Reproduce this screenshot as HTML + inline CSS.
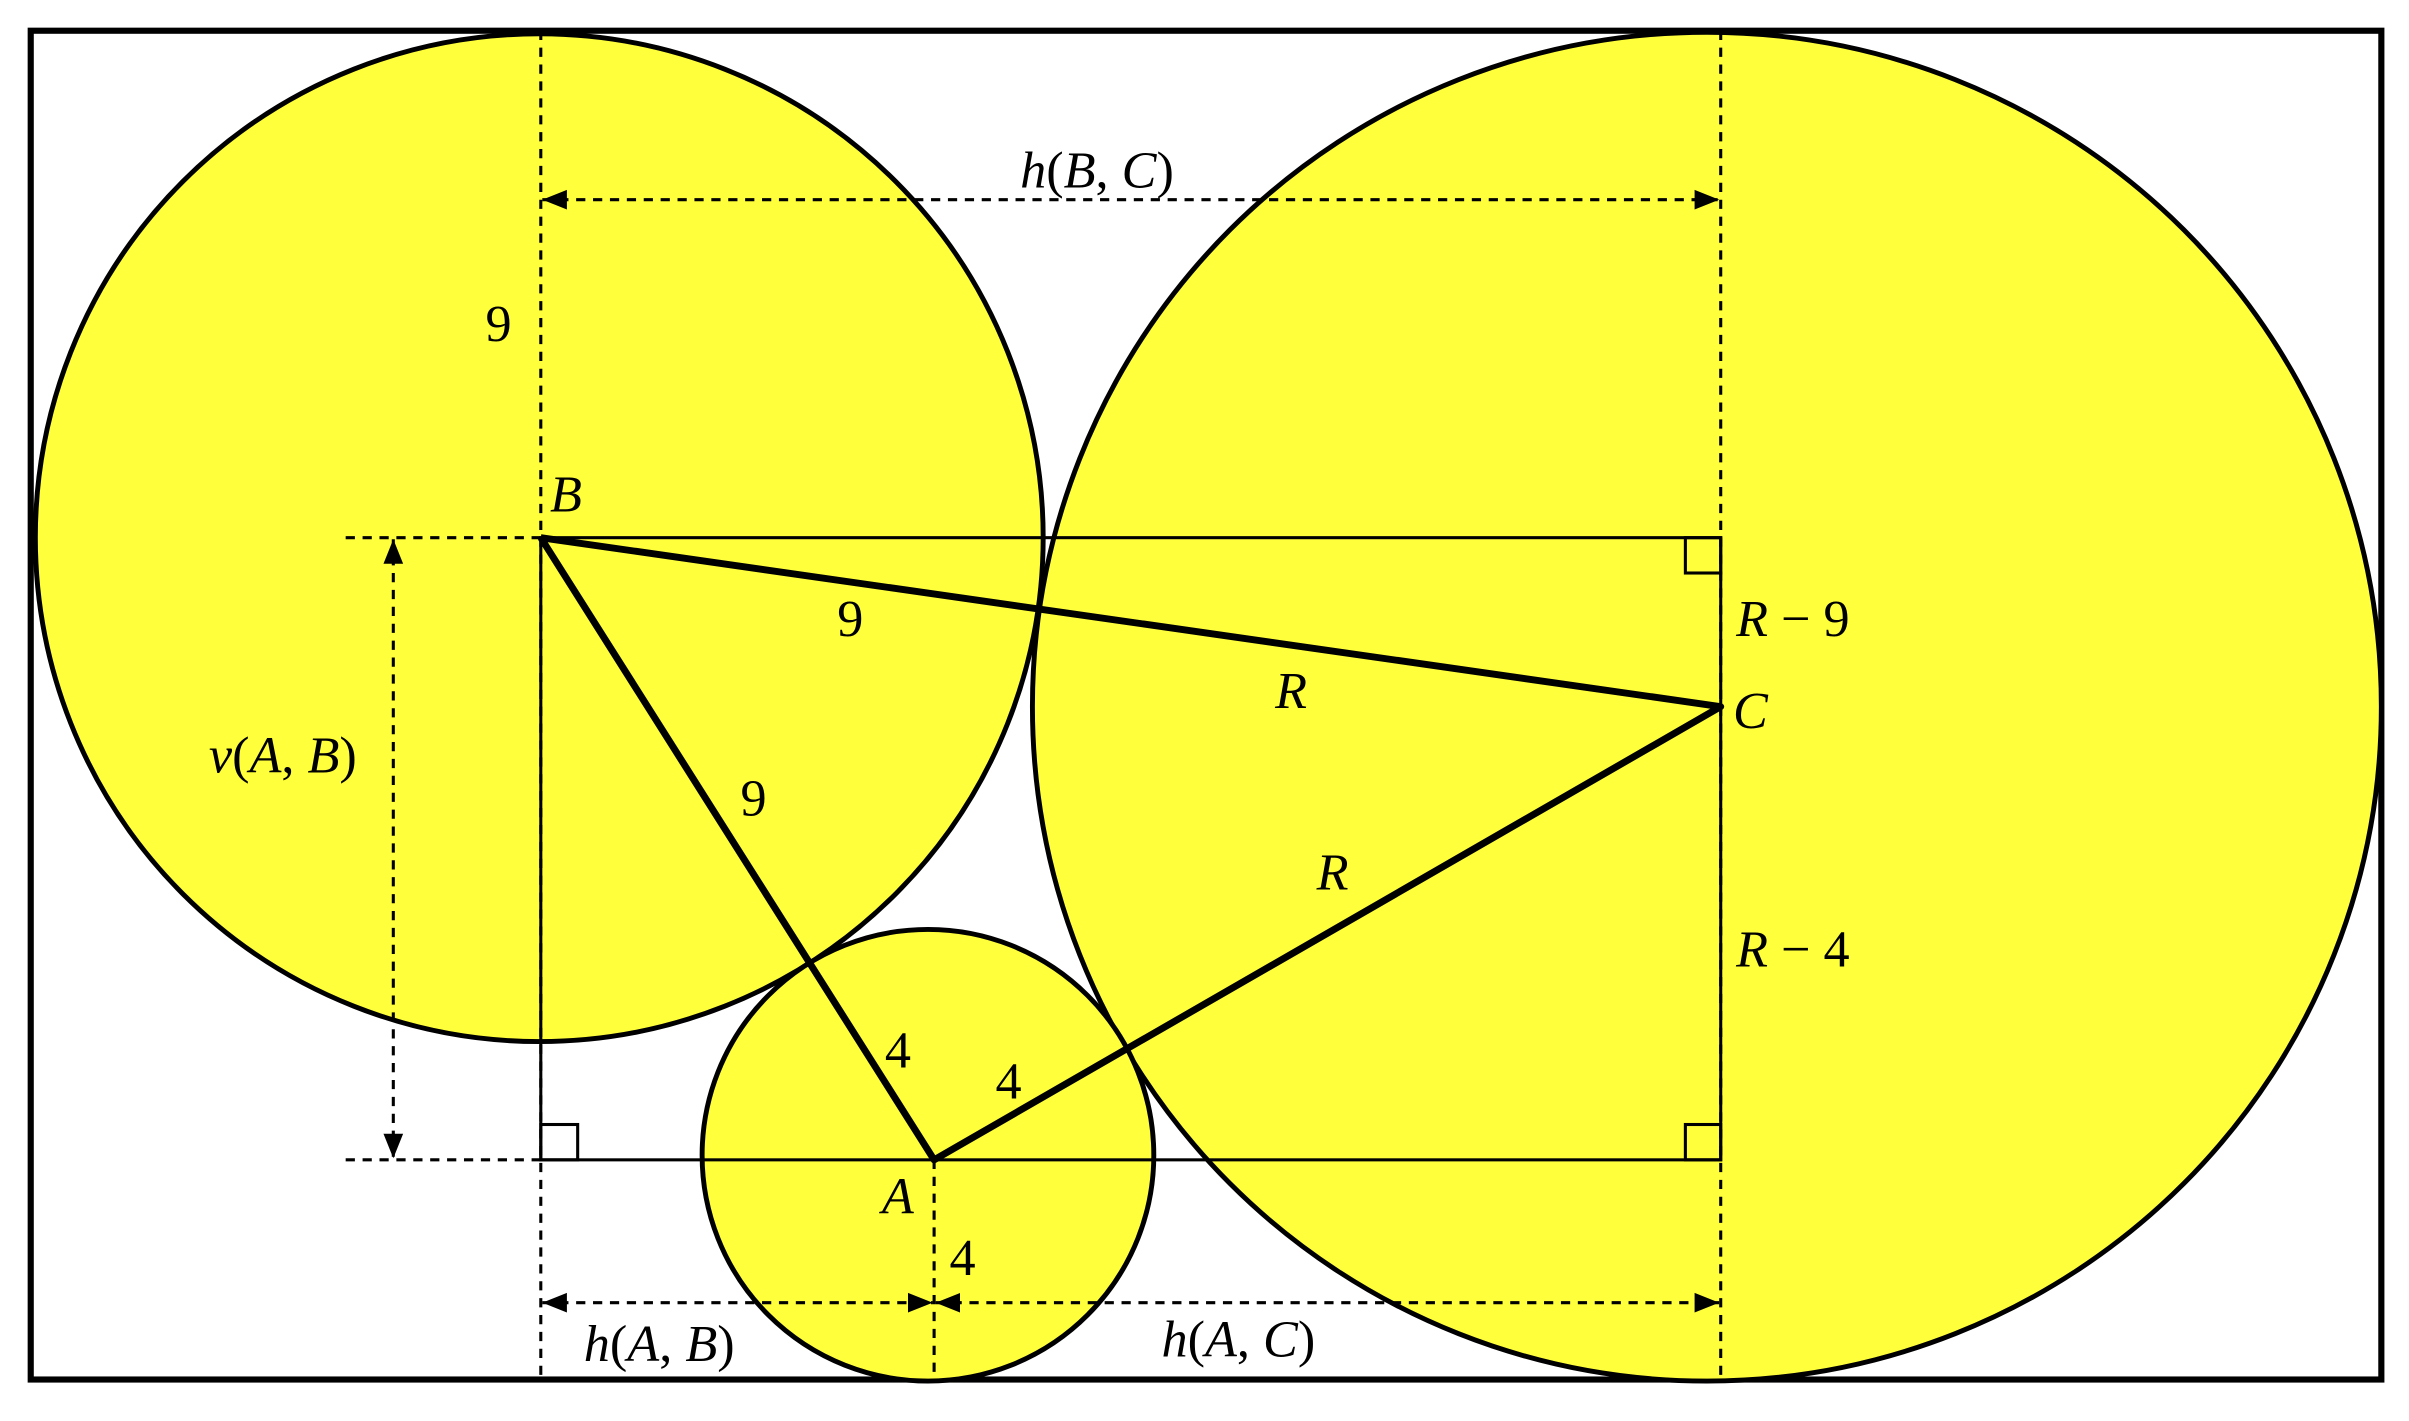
<!DOCTYPE html>
<html><head><meta charset="utf-8"><style>
html,body{margin:0;padding:0;background:#fff;}
svg{display:block;}
text{font-family:"Liberation Serif",serif;font-size:34px;fill:#000;}
.i{font-style:italic;}
</style></head><body>
<svg width="2409" height="1421" viewBox="0 0 1568 925" preserveAspectRatio="none" xmlns="http://www.w3.org/2000/svg">
<defs>
<marker id="a2" viewBox="0 0 10 10" refX="10" refY="5" markerWidth="16" markerHeight="16" orient="auto-start-reverse" markerUnits="userSpaceOnUse">
<path d="M0,1 L10,5 L0,9 z" fill="#000"/></marker>
</defs>
<rect x="0" y="0" width="1568" height="925" fill="#fff"/>
<rect x="20" y="20" width="1530" height="878" fill="#fff" stroke="#000" stroke-width="4"/>
<circle cx="351" cy="350" r="328" fill="#ffff3b" stroke="#000" stroke-width="3.2"/>
<circle cx="1111" cy="460" r="439" fill="#ffff3b" stroke="#000" stroke-width="3.2"/>
<circle cx="604" cy="752" r="147" fill="#ffff3b" stroke="#000" stroke-width="3.2"/>
<g fill="none" stroke="#000" stroke-width="2">
<rect x="352" y="350" width="768" height="405"/>
<rect x="1097" y="350" width="23" height="23"/>
<rect x="352" y="732" width="24" height="23"/>
<rect x="1097" y="732" width="23" height="23"/>
</g>
<g stroke="#000" stroke-width="2" stroke-dasharray="6,5" fill="none">
<line x1="352" y1="20" x2="352" y2="898"/>
<line x1="1120" y1="20" x2="1120" y2="898"/>
<line x1="608" y1="755" x2="608" y2="898"/>
<line x1="225" y1="350" x2="352" y2="350"/>
<line x1="225" y1="755" x2="352" y2="755"/>
<line x1="256" y1="351" x2="256" y2="754" marker-start="url(#a2)" marker-end="url(#a2)"/>
<line x1="353" y1="130" x2="1119" y2="130" marker-start="url(#a2)" marker-end="url(#a2)"/>
<line x1="353" y1="848" x2="607" y2="848" marker-start="url(#a2)" marker-end="url(#a2)"/>
<line x1="609" y1="848" x2="1119" y2="848" marker-start="url(#a2)" marker-end="url(#a2)"/>
</g>
<g stroke="#000" stroke-width="4.5" fill="none" stroke-linejoin="round">
<polyline points="352,350 1120,460 608,755 352,350"/>
</g>
<text x="316" y="222">9</text>
<text x="358" y="333" class="i">B</text>
<text x="545" y="414">9</text>
<text x="830" y="461" class="i">R</text>
<text x="1128" y="474" class="i">C</text>
<text x="1130" y="414"><tspan class="i">R</tspan> − 9</text>
<text x="482" y="531">9</text>
<text x="857" y="579" class="i">R</text>
<text x="1130" y="629"><tspan class="i">R</tspan> − 4</text>
<text x="576" y="695">4</text>
<text x="648" y="715">4</text>
<text x="574" y="790" class="i">A</text>
<text x="618" y="830">4</text>
<text x="136" y="503"><tspan class="i">v</tspan>(<tspan class="i">A</tspan>, <tspan class="i">B</tspan>)</text>
<text x="664" y="122"><tspan class="i">h</tspan>(<tspan class="i">B</tspan>, <tspan class="i">C</tspan>)</text>
<text x="380" y="886"><tspan class="i">h</tspan>(<tspan class="i">A</tspan>, <tspan class="i">B</tspan>)</text>
<text x="756" y="883"><tspan class="i">h</tspan>(<tspan class="i">A</tspan>, <tspan class="i">C</tspan>)</text>
</svg>
</body></html>
